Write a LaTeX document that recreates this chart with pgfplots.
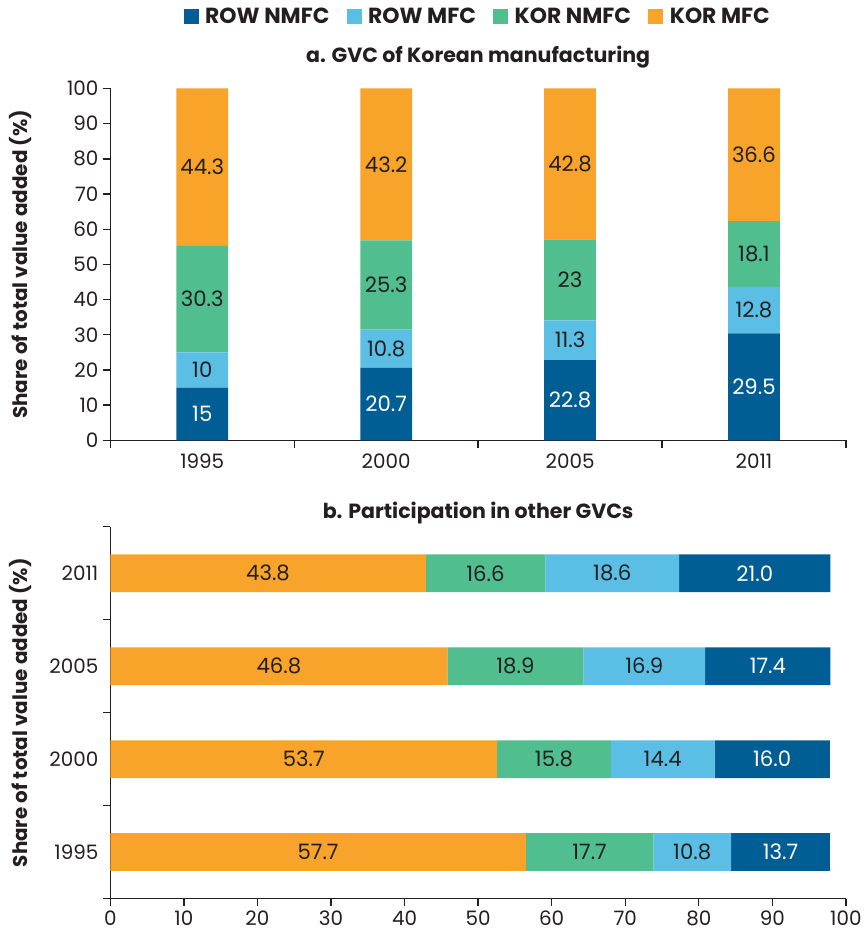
\documentclass[border=0pt]{standalone}
\usepackage{pgfplots}
\pgfplotsset{compat=1.18}
\usepackage{pgfplotstable}
\usepackage{fontspec}
\setmainfont{Poppins}
\definecolor{rowN}{HTML}{005E95}
\definecolor{rowM}{HTML}{5BBEE5}
\definecolor{korN}{HTML}{50BE8E}
\definecolor{korM}{HTML}{F8A329}
\definecolor{txt}{HTML}{231F20}

% panel a: x = category (0=1995..3=2011), y = bar segment, lab = printed value
\pgfplotstableread{
x y lab
0 15 15
1 20.7 20.7
2 22.8 22.8
3 30.4 29.5
}\aRowN
\pgfplotstableread{
x y lab
0 10 10
1 10.8 10.8
2 11.3 11.3
3 13.2 12.8
}\aRowM
\pgfplotstableread{
x y lab
0 30.3 30.3
1 25.3 25.3
2 23 23
3 18.7 18.1
}\aKorN
\pgfplotstableread{
x y lab
0 44.7 44.3
1 43.2 43.2
2 42.9 42.8
3 37.7 36.6
}\aKorM

% panel b: y = category (0=1995..3=2011), x = value
\pgfplotstableread{
x y lab
57.7 0 57.7
53.7 1 53.7
46.8 2 46.8
43.8 3 43.8
}\bKorM
\pgfplotstableread{
x y lab
17.7 0 17.7
15.8 1 15.8
18.9 2 18.9
16.6 3 16.6
}\bKorN
\pgfplotstableread{
x y lab
10.8 0 10.8
14.4 1 14.4
16.9 2 16.9
18.6 3 18.6
}\bRowM
\pgfplotstableread{
x y lab
13.7 0 13.7
16.0 1 16.0
17.4 2 17.4
21.0 3 21.0
}\bRowN

\begin{document}
\begin{tikzpicture}
\path[use as bounding box] (0,0) rectangle (654.75pt,-707pt);
\pgfplotsset{
  common/.style={
    scale only axis, width=555pt,
    axis lines*=left, axis line style={txt, line width=1pt},
    tick style={txt, line width=1pt},
    tick align=outside,
    major tick length=5.5pt, minor tick length=5.5pt,
    ticklabel style={font=\fontsize{15}{17}\selectfont, text=txt},
    /pgf/number format/assume math mode=true,
    ylabel={Share of total value added (\%)},
    every axis y label/.style={at={(axis description cs:0,0.5)}, xshift=-68pt, rotate=90, anchor=center, font=\bfseries\fontsize{15}{17}\selectfont, text=txt},
    title style={font=\bfseries\fontsize{15.5}{17}\selectfont, text=txt, anchor=center, at={(0.5,1)}},
    point meta=explicit symbolic,
    nodes near coords,
    every node near coord/.append style={font=\fontsize{16}{18}\selectfont, text=txt, anchor=center},
  }
}
\begin{axis}[common, at={(83.25pt,-332.25pt)}, anchor=south west, height=265.5pt,
  ybar stacked, bar width=39pt,
  xmin=-0.5, xmax=3.5, ymin=0, ymax=100,
  xtick={-0.5,0.5,1.5,2.5,3.5}, xticklabels={},
  extra x ticks={0,1,2,3}, extra x tick labels={1995,2000,2005,2011},
  extra x tick style={tick style={draw=none}},
  xticklabel style={yshift=-1.5pt},
  ytick={0,10,...,100},
  title={a. GVC of Korean manufacturing}, title style={yshift=18pt},
  visualization depends on={\thisrow{y} \as \segy},
  every node near coord/.append style={shift={(axis direction cs:0,-\segy/2)}},
  legend style={at={(0.5,1.2034)}, anchor=center, draw=none, legend columns=4,
    font=\bfseries\fontsize{16.5}{18}\selectfont, text=txt,
    /tikz/every odd column/.append style={column sep=3pt},
    /tikz/every even column/.append style={column sep=11pt}},
  legend image code/.code={\fill[#1] (0pt,-5.6pt) rectangle (11.2pt,5.6pt);},
]
\addplot[fill=rowN, draw=none, every node near coord/.append style={text=white}] table[x=x, y=y, meta=lab] {\aRowN};
\addlegendentry{ROW NMFC}
\addplot[fill=rowM, draw=none] table[x=x, y=y, meta=lab] {\aRowM};
\addlegendentry{ROW MFC}
\addplot[fill=korN, draw=none] table[x=x, y=y, meta=lab] {\aKorN};
\addlegendentry{KOR NMFC}
\addplot[fill=korM, draw=none] table[x=x, y=y, meta=lab] {\aKorM};
\addlegendentry{KOR MFC}
\end{axis}

\begin{axis}[common, at={(83.25pt,-678pt)}, anchor=south west, height=280.5pt,
  xbar stacked, bar width=28.5pt,
  ymin=-0.5, ymax=3.5, xmin=0, xmax=102.14,
  xtick={0,10.214,20.428,30.642,40.856,51.07,61.284,71.498,81.712,91.926,102.14},
  xticklabels={0,10,20,30,40,50,60,70,80,90,100},
  xticklabel style={inner sep=1pt, yshift=-2.5pt},
  ytick={-0.5,0.5,1.5,2.5,3.5}, yticklabels={},
  extra y ticks={0,1,2,3}, extra y tick labels={1995,2000,2005,2011},
  extra y tick style={tick style={draw=none}},
  title={b. Participation in other GVCs}, title style={yshift=4.5pt},
  visualization depends on={\thisrow{x} \as \segx},
  every node near coord/.append style={shift={(axis direction cs:-\segx/2,0)}},
]
\addplot[fill=korM, draw=none] table[x=x, y=y, meta=lab] {\bKorM};
\addplot[fill=korN, draw=none] table[x=x, y=y, meta=lab] {\bKorN};
\addplot[fill=rowM, draw=none] table[x=x, y=y, meta=lab] {\bRowM};
\addplot[fill=rowN, draw=none, every node near coord/.append style={text=white}] table[x=x, y=y, meta=lab] {\bRowN};
\end{axis}
\end{tikzpicture}
\end{document}
